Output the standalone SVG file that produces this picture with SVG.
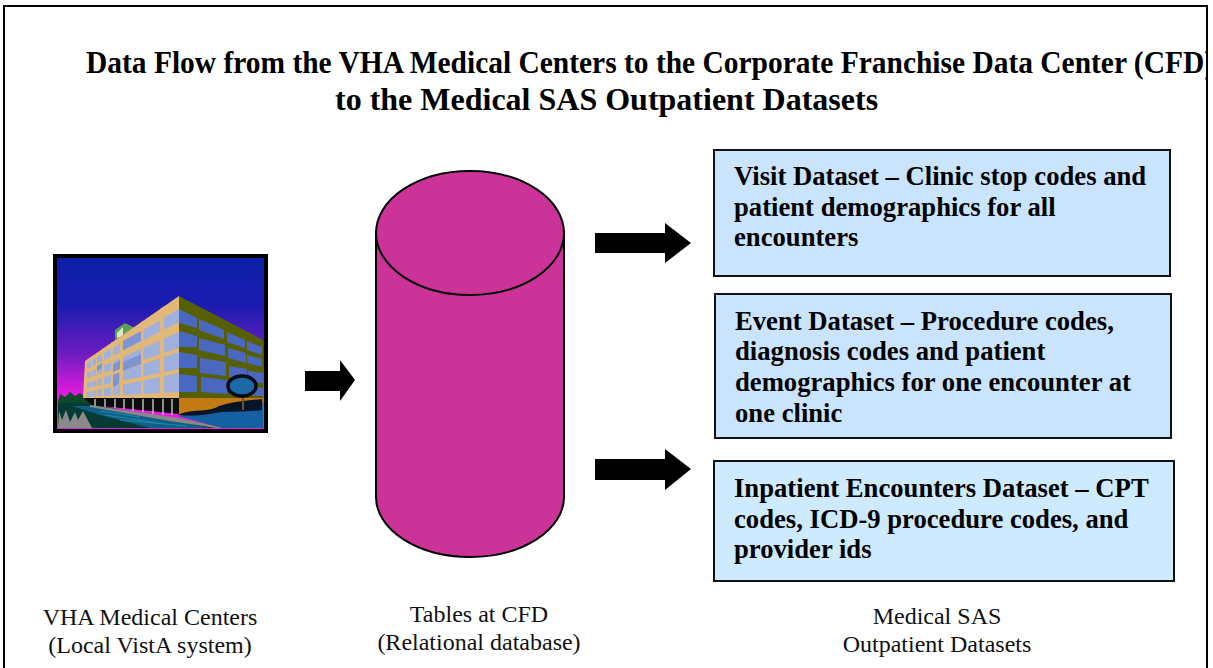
<svg xmlns="http://www.w3.org/2000/svg" width="1213" height="668" viewBox="0 0 1213 668">
<style>
text{font-family:"Liberation Serif","Times New Roman",serif;fill:#000}
.t{font-size:32px;font-weight:bold}
.b{font-size:26.67px;font-weight:bold}
.c{font-size:24px;text-anchor:middle;fill:#111}
.box{stroke:#111;stroke-width:2}
.win{fill:#9fb0dc}
.wr{fill:#4a68c0}
.tan{fill:#e2b878}
</style>
<defs>
<linearGradient id="sky" x1="0" y1="0" x2="0" y2="1"><stop offset="0" stop-color="#0c1fa8"/><stop offset=".28" stop-color="#1a1cb0"/><stop offset=".55" stop-color="#6a1cc0"/><stop offset=".8" stop-color="#e81ce0"/></linearGradient>
<clipPath id="tc"><rect x="0" y="0" width="1206" height="130"/></clipPath>
<clipPath id="pic"><rect x="57" y="258" width="206" height="170"/></clipPath>
<clipPath id="face"><path d="M179 296L85 361L83 398H179Z"/></clipPath>
</defs>
<rect width="1213" height="668" fill="#fff"/>
<path d="M4 668V6H1207V668" fill="none" stroke="#000" stroke-width="2"/>
<g id="title" clip-path="url(#tc)">
<text class="t" x="86" y="73" textLength="1128" lengthAdjust="spacingAndGlyphs">Data Flow from the VHA Medical Centers to the Corporate Franchise Data Center (CFD)</text>
<text class="t" x="335" y="110">to the Medical SAS Outpatient Datasets</text>
</g>
<g id="connectors" fill="#000">
<path id="a1" d="M305 371H340V360L355 380L340 401V391H305Z"/>
<path id="a2" d="M595 233H665V223L691 243L665 263V253H595Z"/>
<path id="a3" d="M595 459H665V449L691 469L665 490V480H595Z"/>
</g>
<g id="medical-centers">
<rect x="55" y="256" width="211" height="175" fill="url(#sky)" stroke="#000" stroke-width="4"/>
<g clip-path="url(#pic)">
<path d="M58 402L60 394L65 397L70 392L75 396L80 393L85 397L90 401L92 405H58Z" fill="#0a4a28"/>
<path d="M58 403H92L130 412L223 428H58Z" fill="#063a34"/>
<path d="M58 428L59 411L62 420L66 410L70 422L75 412L78 420L83 411L92 428Z" fill="#8a8a8a"/>
<path d="M72 406H92L180 422L210 428H150L100 415Z" fill="#0f5f88"/>
<path d="M105 415L165 424M100 411L140 417M120 420L187 426" stroke="#1a8aa8" fill="none"/>
<path d="M90 405L179 418L224 428H216L170 421L90 407Z" fill="#888"/>
<path d="M178 416L263 403V428H222Z" fill="#1460a0"/>
<path d="M115 340L115 330L125 323L135 328V327Z" fill="#5aa050"/>
<path d="M117 333L123 327V336L117 338Z" fill="#d8e8d0"/>
<path d="M84 398H179V414L92 405Z" fill="#0c0c0c"/>
<path d="M95 399V406M105 399V407M115 399V408M124 399V409M133 399V411M143 399V412M153 399V414M163 399V415M172 399V415" stroke="#bbb" stroke-width="1.5"/>
<path class="tan" d="M179 296L85 361L83 398H179Z"/>
<g class="win">
<path d="M179 309L87 363V369L179 322Z"/>
<path d="M179 332L87 373V378L179 348Z"/>
<path d="M179 352L87 383V388L179 369Z"/>
<path d="M179 373L87 392V397L179 392Z"/>
</g>
<g class="tan" clip-path="url(#face)">
<rect x="160" y="296" width="4" height="102"/>
<rect x="141" y="296" width="2.5" height="102"/>
<rect x="120" y="296" width="3" height="102"/>
<rect x="111" y="296" width="2" height="102"/>
<rect x="102" y="296" width="2" height="102"/>
<rect x="96" y="296" width="1.2" height="102"/>
<rect x="91" y="296" width="1.2" height="102"/>
</g>
<path d="M123 341L141 331V341L123 350ZM113 365L120 360V369L113 372ZM113 375L119 373V384L113 387ZM97 366L102 363V368L97 371ZM123 362L141 354V364L123 371Z" fill="#7f95d2"/>
<path d="M179 296L263 340V398H179Z" fill="#566000"/>
<path d="M179 398H263V402L218 411L179 414Z" fill="#c47a14"/>
<path d="M179 309L197 318V328L179 323Z" class="wr"/><path d="M199 319L224 330V339L199 330Z" class="wr"/><path d="M227 332L245 340V348L227 342Z" class="wr"/><path d="M247 341L262 347V355L247 350Z" class="wr"/>
<path d="M179 331L197 336V347L179 347Z" class="wr"/><path d="M199 338L225 345V356L199 350Z" class="wr"/><path d="M228 348L246 353V363L228 358Z" class="wr"/><path d="M247 355L262 359V367L247 363Z" class="wr"/>
<path d="M179 352L197 355V368L179 368Z" class="wr"/><path d="M200 358L226 362V376L200 373Z" class="wr"/><path d="M229 366L247 369V377L229 377Z" class="wr"/><path d="M248 371L263 373V383L248 382Z" class="wr"/>
<path d="M179 374L197 376V392L179 392Z" class="wr"/><path d="M201 377L227 380V394L201 392Z" class="wr"/><path d="M230 382L263 388V396L230 395Z" class="wr"/>
<path d="M178 415C188 409 205 412 215 408C225 403 240 401 262 399V410C250 412 225 411 215 413C200 416 190 416 178 415Z" fill="#061428"/>
<path d="M242 396H244V410H242Z" fill="#6a5030"/>
<ellipse cx="242" cy="386" rx="14" ry="10" fill="#1a6aa8" stroke="#050a18" stroke-width="3.5"/>
</g>
<rect x="55" y="256" width="211" height="175" fill="none" stroke="#000" stroke-width="4"/>
<text class="c" x="150" y="625">VHA Medical Centers</text>
<text class="c" x="150" y="653">(Local VistA system)</text>
</g>
<g id="database">
<path d="M376 232V497A94 60 0 0 0 564 497V232Z" fill="#cc3399" stroke="#000" stroke-width="2"/>
<ellipse cx="470" cy="233" rx="94" ry="62" fill="#cc3399" stroke="#000" stroke-width="2"/>
<text class="c" x="479" y="622">Tables at CFD</text>
<text class="c" x="479" y="650">(Relational database)</text>
</g>
<g id="visit">
<rect class="box" x="714" y="150" width="456" height="126" fill="#cbe4fe"/>
<text class="b" x="734" y="185">Visit Dataset – Clinic stop codes and</text>
<text class="b" x="734" y="216">patient demographics for all</text>
<text class="b" x="734" y="246">encounters</text>
</g>
<g id="event">
<rect class="box" x="715" y="294" width="456" height="144" fill="#cbe4fe"/>
<text class="b" x="735" y="330">Event Dataset – Procedure codes,</text>
<text class="b" x="735" y="360">diagnosis codes and patient</text>
<text class="b" x="735" y="391">demographics for one encounter at</text>
<text class="b" x="735" y="422">one clinic</text>
</g>
<g id="inpatient">
<rect class="box" x="714" y="461" width="460" height="120" fill="#cdeafe"/>
<text class="b" x="734" y="497">Inpatient Encounters Dataset – CPT</text>
<text class="b" x="734" y="528">codes, ICD-9 procedure codes, and</text>
<text class="b" x="734" y="558">provider ids</text>
</g>
<g id="outpatient-label">
<text class="c" x="937" y="624">Medical SAS</text>
<text class="c" x="937" y="652">Outpatient Datasets</text>
</g>
</svg>
